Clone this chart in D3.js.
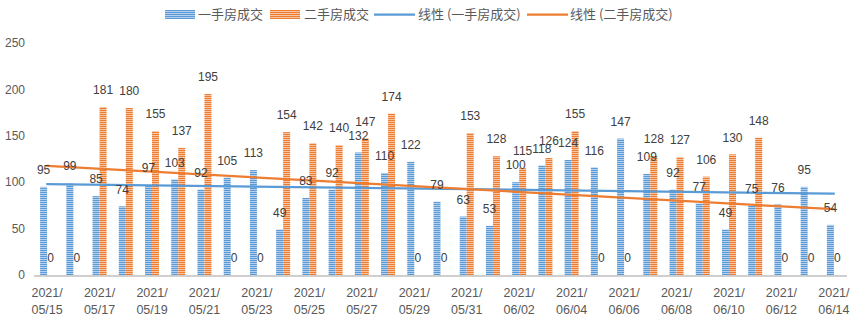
<!DOCTYPE html>
<html><head><meta charset="utf-8">
<script src="https://cdn.jsdelivr.net/npm/d3@7"></script>
<style>body{margin:0;background:#fff}svg{display:block}</style>
</head><body><svg id="c" width="859" height="324"></svg>
<script>
const dates = ["2021/05/15","2021/05/16","2021/05/17","2021/05/18","2021/05/19","2021/05/20","2021/05/21","2021/05/22","2021/05/23","2021/05/24","2021/05/25","2021/05/26","2021/05/27","2021/05/28","2021/05/29","2021/05/30","2021/05/31","2021/06/01","2021/06/02","2021/06/03","2021/06/04","2021/06/05","2021/06/06","2021/06/07","2021/06/08","2021/06/09","2021/06/10","2021/06/11","2021/06/12","2021/06/13","2021/06/14"];
const newHomes = [95,99,85,74,97,103,92,105,113,49,83,92,132,110,122,79,63,53,100,118,124,116,147,109,92,77,49,75,76,95,54];
const resale = [0,0,181,180,155,137,195,0,0,154,142,140,147,174,0,0,153,128,115,126,155,0,0,128,127,106,130,148,0,0,0];
const seriesNames = ["一手房成交","二手房成交"];
const trendNames = ["线性 (一手房成交)","线性 (二手房成交)"];
const yTicks = [0,50,100,150,200,250];
const colors = {dark:["#5B9BD5","#ED7D31"], light:["#B4D0EE","#F8C3A0"]};

const svg = d3.select("#c");
const defs = svg.append("defs");
[0,1].forEach(i=>{
  const p = defs.append("pattern").attr("id","pat"+i).attr("patternUnits","userSpaceOnUse")
    .attr("width",4).attr("height",2);
  p.append("rect").attr("width",4).attr("height",2).attr("fill",colors.light[i]);
  p.append("rect").attr("width",4).attr("height",1).attr("fill",colors.dark[i]);
});

const x = d3.scaleBand().domain(d3.range(dates.length)).range([34,847]).paddingInner(0.466).paddingOuter(0.233);
const x1 = d3.scaleBand().domain([0,1]).range([0,x.bandwidth()]);
const y = d3.scaleLinear().domain([0,250]).range([275,43]);

// y axis labels
svg.append("g").selectAll("text").data(yTicks).join("text")
  .attr("x",25).attr("y",d=>y(d)).attr("dy","0.35em").attr("text-anchor","end")
  .attr("font-family","Liberation Sans, Arial").attr("font-size",12).attr("fill","#595959").text(d=>d);

// bars
const series = [newHomes,resale];
series.forEach((vals,si)=>{
  svg.append("g").selectAll("rect").data(vals).join("rect")
    .attr("x",(d,i)=>x(i)+x1(si)).attr("width",x1.bandwidth())
    .attr("y",d=>y(d)).attr("height",d=>y(0)-y(d))
    .attr("fill","url(#pat"+si+")");
});

// axis line
svg.append("line").attr("x1",34).attr("x2",847).attr("y1",y(0)+1).attr("y2",y(0)+1)
  .attr("stroke","#BFBFBF").attr("stroke-width",1.5);

// trend lines (least squares over category index)
function fit(vals){
  const n=vals.length, xs=d3.range(1,n+1);
  const mx=d3.mean(xs), my=d3.mean(vals);
  const b=d3.sum(xs,(xi,i)=>(xi-mx)*(vals[i]-my))/d3.sum(xs,xi=>(xi-mx)**2);
  const a=my-b*mx;
  return [[0,a+b],[n-1,a+b*n]];
}
series.forEach((vals,si)=>{
  const pts=fit(vals);
  svg.append("line")
    .attr("x1",x(pts[0][0])+x.bandwidth()/2).attr("y1",y(pts[0][1]))
    .attr("x2",x(pts[1][0])+x.bandwidth()/2).attr("y2",y(pts[1][1]))
    .attr("stroke",colors.dark[si]).attr("stroke-width",2.25).attr("stroke-linecap","round");
});

// data labels
series.forEach((vals,si)=>{
  svg.append("g").selectAll("text").data(vals).join("text")
    .attr("x",(d,i)=>x(i)+x1(si)+x1.bandwidth()/2).attr("y",d=>y(d)-17).attr("dy","0.35em")
    .attr("text-anchor","middle").attr("font-family","Liberation Sans, Arial").attr("font-size",12)
    .attr("fill","#404040").text(d=>d);
});

// x labels every 2 days
const xl = svg.append("g");
dates.forEach((d,i)=>{
  if(i%2) return;
  const parts=d.split("/");
  const t = xl.append("text").attr("text-anchor","middle").attr("font-family","Liberation Sans, Arial")
    .attr("font-size",12.5).attr("fill","#595959");
  const cx = x(i)+x.bandwidth()/2;
  t.append("tspan").attr("x",cx).attr("y",297).text(parts[0]+"/");
  t.append("tspan").attr("x",cx).attr("y",314).text(parts[1]+"/"+parts[2]);
});

// legend
const lg = svg.append("g").attr("font-family","Noto Sans CJK SC, sans-serif").attr("font-size",13).attr("fill","#595959");
const legendItems = [
  {type:"bar",i:0,sx:165,tx:198,label:seriesNames[0]},
  {type:"bar",i:1,sx:270,tx:304,label:seriesNames[1]},
  {type:"line",i:0,sx:374,tx:418,label:trendNames[0]},
  {type:"line",i:1,sx:527,tx:570,label:trendNames[1]}
];
legendItems.forEach(it=>{
  if(it.type==="bar"){
    lg.append("rect").attr("x",it.sx).attr("y",10).attr("width",30).attr("height",9).attr("fill","url(#pat"+it.i+")");
  } else {
    lg.append("line").attr("x1",it.sx).attr("x2",it.sx+41).attr("y1",14.5).attr("y2",14.5)
      .attr("stroke",colors.dark[it.i]).attr("stroke-width",2.25);
  }
  lg.append("text").attr("x",it.tx).attr("y",14.5).attr("dy","0.35em").text(it.label);
});
</script></body></html>
